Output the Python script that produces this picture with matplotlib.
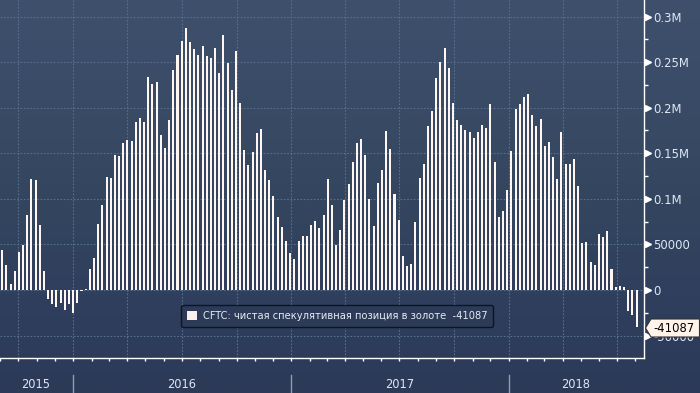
import matplotlib
matplotlib.use('Agg')
import matplotlib.pyplot as plt
import numpy as np
import pandas as pd
import matplotlib.dates as mdates
import matplotlib.transforms as mtransforms
from matplotlib import font_manager
from matplotlib.patches import Polygon, Rectangle
from matplotlib.lines import Line2D
from matplotlib.colors import LinearSegmentedColormap
from matplotlib.ticker import FixedLocator, NullFormatter

# ---------------- data ----------------
start_date = '2015-09-04'
net_position_k = [
    43.8, 27.4, 6.6, 20.8, 41.7, 49.3, 82.2, 121.7, 120.6, 71.3, 20.8,
    -9.9, -15.3, -18.6, -14.3, -21.9, -15.3, -25.2, -14.3, -1.1, 1.1,
    23.0, 35.1, 72.3, 93.2, 123.9,
    122.8, 148.0, 146.9, 161.1, 164.4, 163.3, 184.2, 188.5, 184.2, 233.5,
    225.8, 228.0, 169.9, 155.7, 186.4, 241.2, 257.6, 273.0, 287.2, 271.9,
    264.2, 257.6, 267.5, 256.5, 254.3, 265.3,
    237.9, 279.5, 248.8, 219.2, 262.0, 205.0, 153.5, 137.0, 151.3, 172.1,
    176.5, 131.5, 120.6, 103.0, 80.0, 69.1, 53.7, 40.6, 34.0, 53.7,
    59.2, 59.2, 71.3, 75.6, 68.0, 82.2,
    121.7, 93.2, 49.3, 65.8, 98.7, 116.2, 140.3, 161.1, 165.5, 148.0,
    99.8, 70.2, 117.3, 131.5, 174.3, 154.6, 105.2, 76.7, 37.3, 26.3,
    28.5, 74.5, 122.8, 138.1, 179.8, 196.2,
    232.4, 249.9, 265.3, 243.4, 205.0, 186.4, 180.9, 175.4, 173.2, 166.6,
    173.2, 180.9, 177.6, 203.9, 140.3, 80.0, 86.6, 109.6, 152.4, 198.4,
    203.9, 211.6, 214.9, 191.8, 179.8, 187.5,
    157.9, 162.2, 145.8, 121.7, 173.2, 138.1, 138.1, 143.6, 114.0, 51.5,
    52.6, 30.7, 27.4, 61.4, 58.1, 64.7, 23.0, 3.3, 4.4, 3.3,
    -23.0, -27.4, -41.087,
]
dates = pd.date_range(start_date, periods=len(net_position_k), freq='7D')
values = np.array(net_position_k) * 1000.0

ytick_values = [-50000, 0, 50000, 100000, 150000, 200000, 250000, 300000]
ytick_labels = ['-50000', '0', '50000', '0.1M', '0.15M', '0.2M', '0.25M', '0.3M']
year_labels = ['2015', '2016', '2017', '2018']
legend_label = 'CFTC: чистая спекулятивная позиция в золоте  -41087'
last_value_label = '-41087'


# ---------------- font choice ----------------
def pick_font():
    entries = font_manager.fontManager.ttflist
    names = {e.name for e in entries}
    if 'Liberation Sans Narrow' in names:
        return 'Liberation Sans Narrow', 'normal'
    for e in entries:
        if e.name == 'DejaVu Sans' and str(e.stretch) in ('condensed', 'semi-condensed', '500', '400', '300'):
            if str(e.stretch) != 'normal':
                return 'DejaVu Sans', 'condensed'
    for cand in ('Roboto Condensed', 'Open Sans Condensed', 'Noto Sans Condensed'):
        if cand in names:
            return cand, 'normal'
    return 'Liberation Sans', 'normal'


FAMILY, STRETCH = pick_font()
plt.rcParams['font.family'] = [FAMILY, 'DejaVu Sans']
plt.rcParams['font.stretch'] = STRETCH

# ---------------- figure ----------------
W, H = 700, 393
fig = plt.figure(figsize=(W / 100, H / 100), dpi=100)
renderer = fig.canvas.get_renderer()


def fit_size(text, target_px, base=10.0):
    t = fig.text(0, 0, text, fontsize=base)
    w = t.get_window_extent(renderer).width
    t.remove()
    return base * target_px / w if w > 0 else base


tick_fs = min(11.0, fit_size('0.25M', 36))
year_fs = min(11.0, fit_size('2016', 29))
legend_fs = min(10.5, fit_size(legend_label, 286))
last_fs = min(11.0, fit_size(last_value_label, 41))

bg = fig.add_axes([0, 0, 1, 1])
bg.set_zorder(-5)
cmap = LinearSegmentedColormap.from_list(
    'bg', [(0.0, '#3f506d'), (0.5, '#34465f'), (0.75, '#2f3f5d'), (1.0, '#2c3a58')])
bg.imshow(np.linspace(0, 1, 256).reshape(-1, 1), cmap=cmap, aspect='auto',
          extent=[0, 1, 0, 1], origin='upper')
bg.set_axis_off()

ax = fig.add_axes([0, 35 / H, 644.3 / W, 358 / H])
ax.patch.set_alpha(0)

ax.bar(dates, values, width=3.4, color='#fff5f1', zorder=3, linewidth=0)

xmin = pd.Timestamp('2015-08-31 07:00')
xmax = pd.Timestamp('2018-08-16')
ax.set_xlim(xmin, xmax)
ax.set_ylim(-74600, 318100)

for s in ['left', 'top']:
    ax.spines[s].set_visible(False)
for s in ['right', 'bottom']:
    ax.spines[s].set_color('white')
    ax.spines[s].set_linewidth(1.0)

ax.yaxis.tick_right()
ax.set_yticks(ytick_values)
ax.set_yticklabels(ytick_labels)
ax.yaxis.set_minor_locator(FixedLocator([v + 25000 for v in ytick_values[:-1]]))
ax.tick_params(axis='y', which='major', length=0, pad=6.3, labelsize=tick_fs,
               labelcolor='#dfe8f5')
ax.tick_params(axis='y', which='minor', length=3, width=1, color='white')

ax.xaxis.set_major_locator(mdates.MonthLocator(bymonth=[1, 4, 7, 10]))
ax.xaxis.set_minor_locator(mdates.MonthLocator())
ax.xaxis.set_major_formatter(NullFormatter())
ax.xaxis.set_minor_formatter(NullFormatter())
ax.tick_params(axis='x', which='both', length=2.5, width=1, color='white')

ax.set_axisbelow(True)
ax.grid(True, which='major', color='#56708c', linestyle=(0, (1.5, 1.5)),
        linewidth=0.8)

# triangular major tick markers on the right axis
trans = mtransforms.blended_transform_factory(ax.transAxes, ax.transData)
ax.plot([1.0 + 4 / 644.3] * len(ytick_values), ytick_values, ls='none',
        marker='>', ms=5, color='white', transform=trans, clip_on=False, zorder=5)

# year labels and separators below the axis
ytrans = mtransforms.blended_transform_factory(ax.transData, fig.transFigure)
bounds = [xmin] + [pd.Timestamp(f'{y}-01-01') for y in (2016, 2017, 2018)] + [xmax]
for i, lab in enumerate(year_labels):
    a = mdates.date2num(bounds[i])
    b = mdates.date2num(bounds[i + 1])
    ax.text((a + b) / 2 - 1.5, 9 / H, lab, transform=ytrans, ha='center', va='center',
            fontsize=year_fs, color='#dde6f2', clip_on=False)
for d in bounds[1:-1]:
    x = mdates.date2num(d)
    ln = Line2D([x, x], [0, 18 / H], transform=ytrans, color='#8e9bb0',
                linewidth=1, clip_on=False)
    ax.add_line(ln)

# legend
handle = Rectangle((0, 0), 1, 1, facecolor='#fdf0ec', edgecolor='none')
leg = ax.legend([handle], [legend_label], loc='center',
                bbox_to_anchor=(337 / 644.3, 1 - 316 / 358),
                fontsize=legend_fs, labelcolor='#e4ebf5', facecolor='#2d3b58',
                edgecolor='#0e1420', framealpha=1, fancybox=True,
                handlelength=0.9, handleheight=0.9, handletextpad=0.55,
                borderpad=0.5, borderaxespad=0)
leg.get_frame().set_linewidth(1.0)
leg.set_zorder(6)

# last value callout on the right
yc = H - 328
poly = Polygon([(645.5, yc), (651, yc + 9), (699.5, yc + 9), (699.5, yc - 9),
                (651, yc - 9)], closed=True, facecolor='#fff3ea',
               edgecolor='#333333', linewidth=0.8, transform=None, zorder=10)
fig.add_artist(poly)
fig.text(653 / W, yc / H, last_value_label, ha='left', va='center',
         fontsize=last_fs, color='black', zorder=11)

fig.savefig('out.png', dpi=100)
